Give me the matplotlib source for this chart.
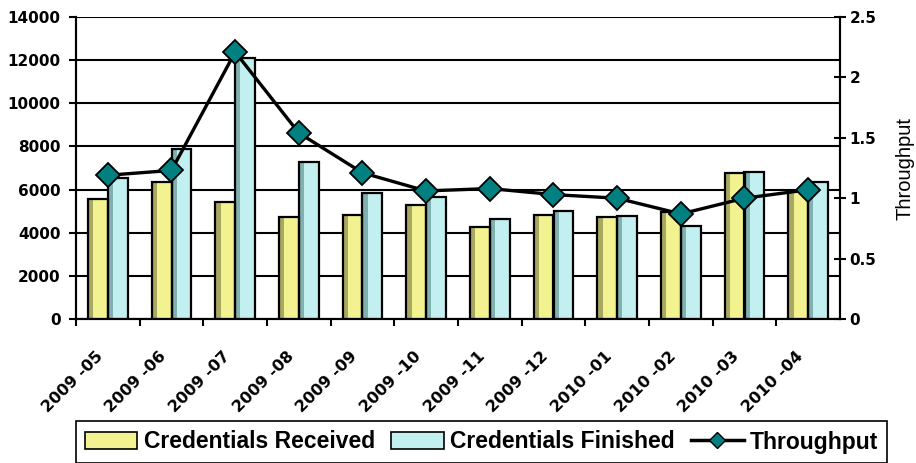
"""Credentials received / finished per month with throughput."""

import matplotlib.pyplot as plt
import numpy as np
from matplotlib.lines import Line2D
from matplotlib.patches import Patch

months = ["2009 -05", "2009 -06", "2009 -07", "2009 -08", "2009 -09", "2009 -10",
          "2009 -11", "2009 -12", "2010 -01", "2010 -02", "2010 -03", "2010 -04"]
received = [5550, 6370, 5440, 4710, 4820, 5290, 4270, 4820, 4710, 4950, 6750, 5950]
finished = [6550, 7880, 12090, 7290, 5840, 5650, 4640, 5010, 4790, 4310, 6830, 6370]
throughput = [1.19, 1.23, 2.21, 1.54, 1.21, 1.06, 1.08, 1.03, 1.00, 0.87, 1.00, 1.07]

plt.rcParams["font.family"] = ["Liberation Sans", "DejaVu Sans"]
tick_font = {"family": "DejaVu Sans", "weight": "bold"}

fig = plt.figure(figsize=(9.16, 4.63), dpi=100)
ax = fig.add_axes([76 / 916, 1 - 319 / 463, 764 / 916, 302 / 463])
ax2 = ax.twinx()

x = np.arange(len(months))
w = 0.31
yellow, yellow_dark = "#f2f290", "#a8a860"
cyan, cyan_dark = "#c2f0f0", "#80b0b0"

ax.bar(x - w / 2, received, w, color=yellow, lw=0, zorder=3)
ax.bar(x - w + 0.04, received, 0.08, color=yellow_dark, lw=0, zorder=3)
ax.bar(x + w / 2, finished, w, color=cyan, lw=0, zorder=3)
ax.bar(x + 0.04, finished, 0.08, color=cyan_dark, lw=0, zorder=3)
# outlines on top of the shading strips
ax.bar(x - w / 2, received, w, color="none", edgecolor="black", lw=1.6, zorder=4)
ax.bar(x + w / 2, finished, w, color="none", edgecolor="black", lw=1.6, zorder=4)

ax2.plot(x, throughput, color="black", lw=2.4, marker="D", ms=12.5,
         mfc="#008080", mec="black", mew=1.3, zorder=5)

ax.set_xlim(-0.5, len(months) - 0.5)
ax.set_ylim(0, 14000)
ax.set_yticks(np.arange(0, 14001, 2000))
ax2.set_ylim(0, 2.5)
ax2.set_yticks([0, 0.5, 1, 1.5, 2, 2.5])
ax2.set_yticklabels(["0", "0.5", "1", "1.5", "2", "2.5"])
ax.grid(axis="y", color="black", lw=1.5, zorder=0)
ax.set_axisbelow(True)

ax.set_xticks(x - 0.5)
ax.set_xticklabels([])
ax.set_xticks(x - 0.2, minor=True)
ax.set_xticklabels(months, minor=True, rotation=45, ha="right", va="top",
                   rotation_mode="anchor", fontsize=11.5, fontdict=tick_font)
ax.tick_params(axis="x", which="minor", length=0, pad=21)
ax.tick_params(axis="x", which="major", length=5, width=1.5, direction="out")
ax.tick_params(axis="y", length=5, width=1.5, labelsize=11, pad=6)
ax2.tick_params(axis="y", length=8, width=1.5, direction="inout", labelsize=11, pad=3)
for t in ax.get_yticklabels() + ax2.get_yticklabels():
    t.set_fontfamily("DejaVu Sans")
    t.set_fontweight("bold")

for a in (ax, ax2):
    a.spines["top"].set_visible(False)
    for s in ("left", "right", "bottom"):
        a.spines[s].set_linewidth(1.5)

ax2.set_ylabel("Throughput", fontsize=14.5)
ax2.yaxis.set_label_coords(1.072, 0.5)

handles = [
    Patch(facecolor=yellow, edgecolor="black", lw=1.2, label="Credentials Received"),
    Patch(facecolor=cyan, edgecolor="black", lw=1.2, label="Credentials Finished"),
    Line2D([], [], color="black", lw=2.5, marker="D", ms=8, mfc="#008080",
           mec="black", label="Throughput"),
]
leg = fig.legend(handles=handles, loc="center", ncol=3,
                 bbox_to_anchor=(481.5 / 916, 1 - 442 / 463),
                 prop={"weight": "bold", "size": 16.5}, fancybox=False,
                 edgecolor="black", handlelength=2.3, handletextpad=0.28,
                 columnspacing=0.7, borderpad=0.4, framealpha=1)
leg.get_frame().set_linewidth(1.2)

fig.savefig("out.png", dpi=100)
plt.close(fig)
